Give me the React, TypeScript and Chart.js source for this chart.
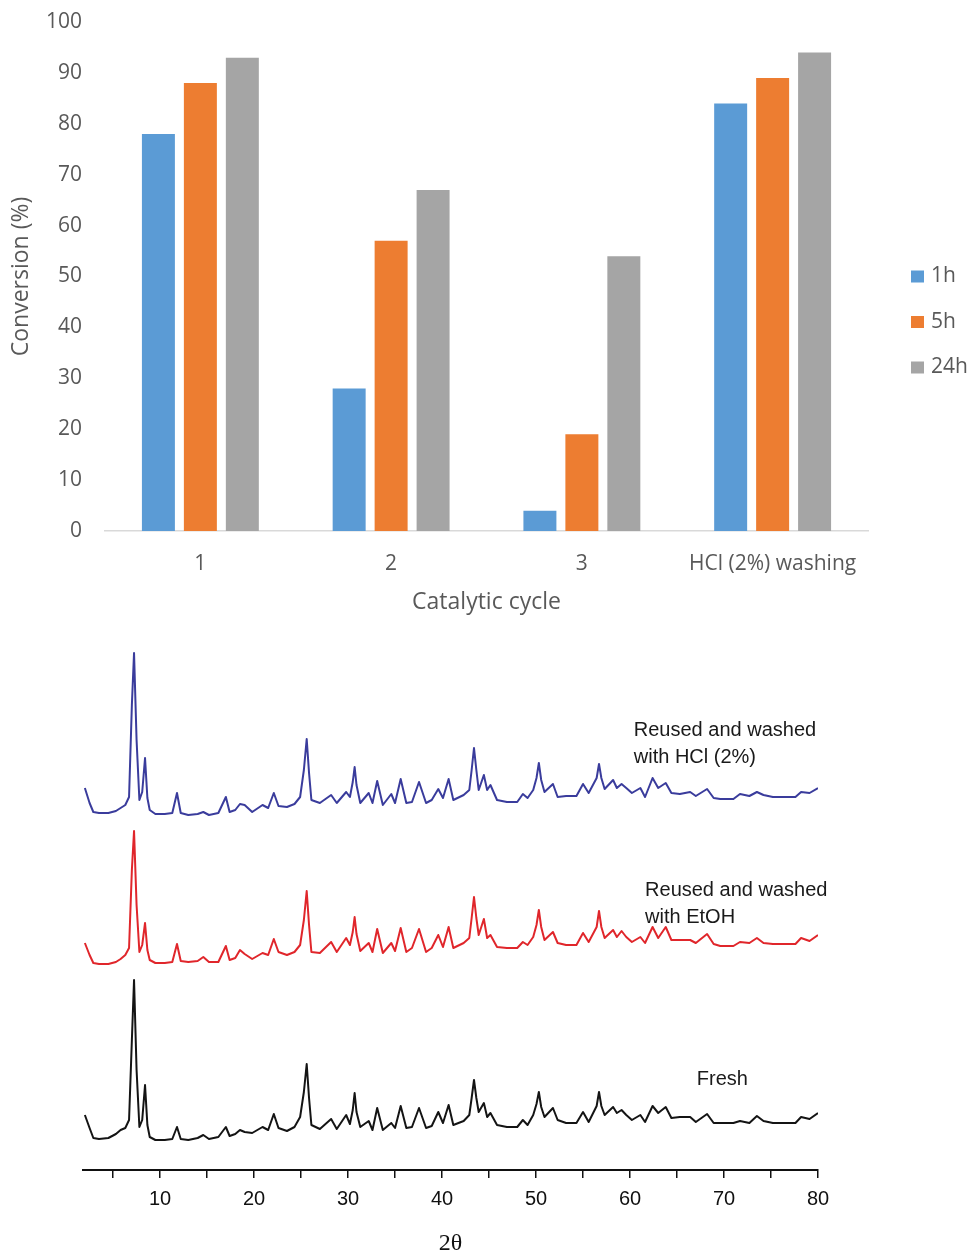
import React, { useEffect, useRef } from "react";
import { Chart, registerables } from "chart.js";

Chart.register(...registerables);

// ---------- Bar chart data ----------
const cycles = ["1", "2", "3", "HCl (2%) washing"];
const seriesLabels = ["1h", "5h", "24h"];
const conv1h = [78, 28, 4, 84];
const conv5h = [88, 57, 19, 89];
const conv24h = [93, 67, 54, 94];
const barColors = ["#5b9bd5", "#ed7d31", "#a5a5a5"];

// ---------- XRD data (2θ, intensity a.u., stacked) ----------
const twoTheta = [
  2.0, 2.5, 2.9, 3.5, 4.5, 5.3, 5.8, 6.3, 6.7, 7.0, 7.23, 7.5, 7.8, 8.1, 8.4, 8.65, 8.9, 9.5, 10.5, 11.3,
  11.8, 12.2, 13.0, 14.0, 14.6, 15.2, 16.2, 17.0, 17.4, 18.0,
  18.5, 19.0, 19.8, 20.9, 21.5, 22.1, 22.6, 23.5, 24.3, 24.9,
  25.3, 25.6, 25.85, 26.1, 27.0, 28.2, 28.8, 29.8, 30.2, 30.5, 30.7, 30.9, 31.3, 32.2,
  32.6, 33.1, 33.7, 34.6, 35.0, 35.6, 36.2, 36.8, 37.55, 38.3,
  38.9, 39.6, 40.1, 40.7, 41.2, 42.3, 42.9, 43.15, 43.4, 43.65, 43.9, 44.45,
  44.8, 45.15, 45.85, 46.9, 48.0, 48.6, 49.1, 49.7, 50.05, 50.3, 50.55, 50.9,
  51.8, 52.3, 53.2, 54.3, 55.0, 55.6, 56.45, 56.7, 56.95, 57.3, 58.2, 58.6,
  59.1, 59.6, 60.2, 61.1, 61.6, 62.4, 63.0, 63.8, 64.4, 65.3,
  66.4, 67.0, 68.2, 68.9, 69.6, 71.0, 71.7, 72.7, 73.5, 74.2,
  75.2, 76.6, 77.6, 78.2, 79.1, 80.0,
];

const freshI = [
  55, 42, 32, 31, 32, 36, 40, 42, 50, 130, 190, 100, 43, 50, 85, 45, 33, 30, 30, 31,
  43, 31, 30, 32, 35, 31, 33, 43, 34, 36,
  40, 38, 37, 43, 40, 56, 42, 39, 43, 53,
  78, 106, 72, 45, 41, 51, 41, 55, 46, 60, 77, 58, 43, 49,
  40, 62, 40, 47, 42, 64, 42, 43, 62, 42,
  44, 58, 47, 65, 45, 49, 55, 72, 90, 72, 58, 67,
  53, 57, 45, 43, 43, 50, 45, 55, 66, 78, 63, 53,
  62, 50, 47, 47, 58, 48, 64, 78, 64, 55, 63, 57,
  60, 55, 50, 55, 48, 64, 57, 63, 52, 53,
  53, 48, 56, 47, 47, 47, 49, 47, 54, 49,
  47, 47, 47, 53, 51, 57,
];

const etohI = [
  227, 215, 207, 206, 206, 208, 211, 215, 222, 300, 339, 265, 218, 225, 247, 220, 210, 207, 207, 208,
  226, 209, 208, 209, 213, 208, 208, 224, 210, 212,
  220, 216, 211, 217, 215, 231, 218, 215, 218, 225,
  250, 279, 245, 218, 217, 228, 218, 232, 225, 238, 253, 236, 219, 227,
  218, 241, 217, 227, 219, 242, 218, 222, 241, 218,
  222, 235, 223, 243, 222, 227, 232, 252, 273, 252, 235, 251,
  232, 235, 223, 222, 222, 228, 225, 233, 245, 260, 243, 230,
  238, 227, 225, 225, 237, 228, 243, 259, 243, 232, 240, 233,
  239, 233, 228, 233, 227, 243, 232, 243, 230, 230,
  230, 227, 236, 226, 224, 224, 228, 227, 232, 227,
  226, 226, 226, 232, 229, 235,
];

const hclI = [
  382, 367, 358, 357, 357, 359, 362, 365, 373, 465, 517, 430, 370, 378, 412, 372, 360, 356, 356, 357,
  377, 357, 355, 356, 358, 355, 357, 373, 358, 360,
  366, 365, 358, 365, 362, 377, 364, 363, 366, 373,
  400, 431, 397, 370, 367, 375, 367, 378, 373, 388, 403, 385, 367, 377,
  367, 389, 365, 376, 367, 391, 367, 368, 388, 367,
  370, 381, 372, 391, 370, 375, 380, 400, 422, 400, 380, 395,
  380, 385, 370, 368, 368, 376, 372, 380, 392, 407, 390, 378,
  386, 373, 374, 374, 386, 377, 392, 406, 392, 381, 390, 382,
  386, 382, 377, 382, 373, 392, 382, 387, 377, 376,
  378, 374, 381, 372, 371, 371, 376, 374, 378, 375,
  373, 373, 373, 378, 377, 382,
];

const hclNote = ["Reused and washed", "with HCl (2%)"];
const etohNote = ["Reused and washed", "with EtOH"];
const freshNote = ["Fresh"];

const sideLegend = {
  id: "sideLegend",
  afterDraw(chart: any) {
    const { ctx, chartArea } = chart;
    const mid = (chartArea.top + chartArea.bottom) / 2;
    chart.data.datasets.forEach((ds: any, i: number) => {
      const y = mid + i * 45.5;
      ctx.save();
      ctx.fillStyle = ds.backgroundColor;
      ctx.fillRect(chartArea.right + 43, y - 6, 13, 12);
      ctx.fillStyle = "#595959";
      ctx.font = '21px "Open Sans"';
      ctx.textBaseline = "middle";
      ctx.textAlign = "left";
      ctx.fillText(ds.label, chartArea.right + 63, y);
      ctx.restore();
    });
  },
};

const xrdNotes = {
  id: "xrdNotes",
  afterDatasetsDraw(chart: any, _args: any, opts: any) {
    const { ctx, scales } = chart;
    (opts.items || []).forEach((it: any) => {
      const px = scales.x.getPixelForValue(it.x);
      const py = scales.y.getPixelForValue(it.y);
      ctx.save();
      ctx.fillStyle = "#1a1a1a";
      ctx.font = '20px "Liberation Sans", Arial, sans-serif';
      ctx.textBaseline = "middle";
      ctx.textAlign = "left";
      it.lines.forEach((t: string, i: number) => ctx.fillText(t, px, py + i * 27));
      ctx.restore();
    });
  },
};

function BarChart() {
  const ref = useRef<HTMLCanvasElement>(null);
  useEffect(() => {
    const chart = new Chart(ref.current!, {
      type: "bar",
      data: {
        labels: cycles,
        datasets: [conv1h, conv5h, conv24h].map((d, i) => ({
          label: seriesLabels[i],
          data: d,
          backgroundColor: barColors[i],
          categoryPercentage: 0.66,
          barPercentage: 0.786,
        })),
      },
      options: {
        responsive: false,
        animation: false,
        layout: { padding: { top: 22, right: 100, left: 0, bottom: 0 } },
        plugins: { legend: { display: false }, tooltip: { enabled: false } },
        scales: {
          x: {
            grid: { display: false, drawTicks: false },
            border: { display: true, color: "#d9d9d9", width: 1.5 },
            ticks: { color: "#595959", font: { family: "Open Sans", size: 21 }, padding: 20, maxRotation: 0, autoSkip: false },
            title: {
              display: true,
              text: "Catalytic cycle",
              color: "#595959",
              font: { family: "Open Sans", size: 23 },
              padding: { top: 4, bottom: 9 },
            },
            afterFit: (s: any) => { s.height = 94; },
          },
          y: {
            min: 0,
            max: 100,
            grid: { display: false, drawTicks: true, tickLength: 23 },
            border: { display: false },
            ticks: { stepSize: 10, color: "#595959", font: { family: "Open Sans", size: 21 }, padding: 0 },
            title: {
              display: true,
              text: "Conversion (%)",
              color: "#595959",
              font: { family: "Open Sans", size: 23 },
              padding: { top: 8, bottom: 0 },
            },
            afterFit: (s: any) => { s.width = 105; },
          },
        },
      } as any,
      plugins: [sideLegend],
    });
    return () => chart.destroy();
  }, []);
  return <canvas ref={ref} width={968} height={625} style={{ display: "block" }} />;
}

function XrdChart() {
  const ref = useRef<HTMLCanvasElement>(null);
  useEffect(() => {
    const mk = (vals: number[]) => twoTheta.map((x, i) => ({ x, y: vals[i] }));
    const chart = new Chart(ref.current!, {
      type: "line",
      data: {
        datasets: [
          { label: "Reused and washed with HCl (2%)", data: mk(hclI), borderColor: "#3a3c9c" },
          { label: "Reused and washed with EtOH", data: mk(etohI), borderColor: "#e0262b" },
          { label: "Fresh", data: mk(freshI), borderColor: "#141414" },
        ].map((d) => ({ ...d, borderWidth: 2, pointRadius: 0, tension: 0, fill: false, borderJoinStyle: "round" })),
      },
      options: {
        responsive: false,
        animation: false,
        layout: { padding: { top: 15, left: 83, right: 150, bottom: 0 } },
        plugins: {
          legend: { display: false },
          tooltip: { enabled: false },
          xrdNotes: {
            items: [
              { lines: hclNote, x: 60.4, y: 440 },
              { lines: etohNote, x: 61.6, y: 280 },
              { lines: freshNote, x: 67.1, y: 91 },
            ],
          },
        },
        scales: {
          x: {
            type: "linear",
            min: 1.8,
            max: 80,
            grid: { display: true, drawOnChartArea: false, drawTicks: true, tickLength: 8, color: "#111", lineWidth: 1.5 },
            border: { display: true, color: "#111", width: 2 },
            ticks: {
              stepSize: 5,
              includeBounds: false,
              padding: 9,
              color: "#111",
              font: { family: "Liberation Sans", size: 20 },
              maxRotation: 0,
              autoSkip: false,
              callback: (v: any) => (Number(v) % 10 === 0 ? String(v) : ""),
            },
            title: {
              display: true,
              text: "2θ",
              color: "#111",
              font: { family: "Liberation Serif", size: 24 },
              padding: { top: 0, bottom: 0 },
            },
            afterFit: (s: any) => { s.height = 88; },
          },
          y: { display: false, min: 0, max: 530 },
        },
      } as any,
      plugins: [xrdNotes],
    });
    return () => chart.destroy();
  }, []);
  return <canvas ref={ref} width={968} height={633} style={{ display: "block" }} />;
}

export default function App() {
  return (
    <div style={{ position: "absolute", left: 0, top: 0, width: 968, height: 1258, background: "#fff" }}>
      <BarChart />
      <XrdChart />
    </div>
  );
}
